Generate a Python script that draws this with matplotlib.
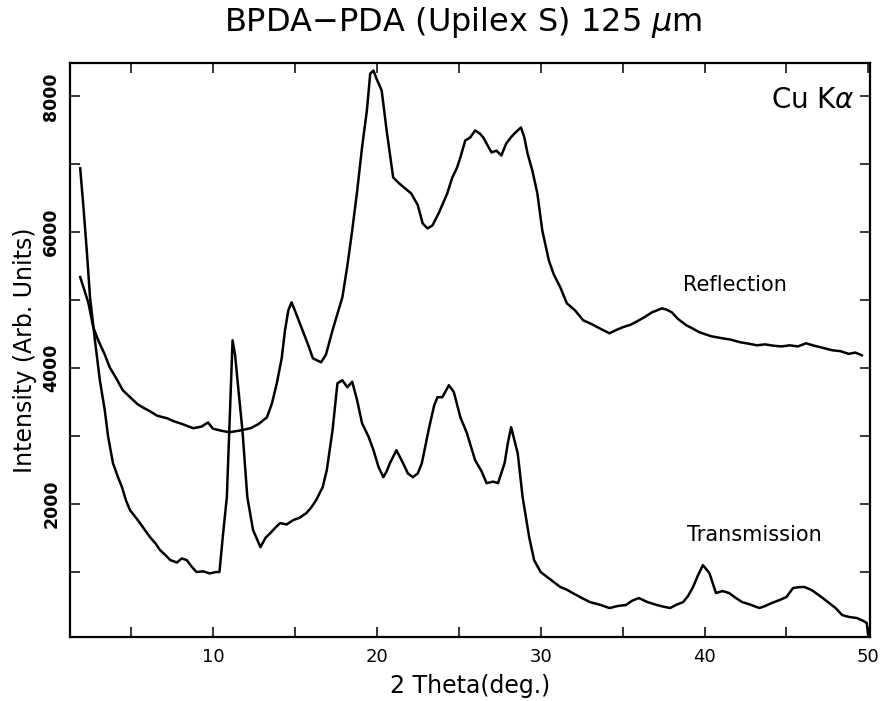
import matplotlib
matplotlib.use("Agg")
import matplotlib.pyplot as plt
from matplotlib.ticker import MultipleLocator

# values (2 theta in deg, intensity in arb. units)
refl_x = [1.9, 2.1, 2.4, 2.7, 3.0, 3.4, 3.7, 4.1, 4.5, 5.0, 5.4, 5.7, 6.2, 6.6,
          7.2, 7.6, 8.1, 8.8, 9.3, 9.7, 10.0, 10.5, 11.0, 11.6, 12.3, 12.8,
          13.3, 13.6, 13.9, 14.2, 14.4, 14.6, 14.8, 15.0, 15.4, 15.8, 16.1,
          16.6, 16.9, 17.3, 17.6, 17.9, 18.2, 18.5, 18.8, 19.1, 19.4, 19.6,
          19.8, 20.0, 20.3, 20.6, 21.0, 21.3, 21.7, 22.1, 22.5, 22.8, 23.1,
          23.4, 23.8, 24.3, 24.6, 24.9, 25.1, 25.4, 25.7, 26.0, 26.3, 26.5,
          27.0, 27.3, 27.6, 27.9, 28.2, 28.4, 28.8, 29.0, 29.2, 29.5, 29.8,
          30.1, 30.5, 30.8, 31.2, 31.6, 32.1, 32.6, 33.1, 33.6, 34.2, 34.6,
          35.0, 35.5, 36.0, 36.4, 36.8, 37.1, 37.4, 37.7, 38.0, 38.4, 38.9,
          39.3, 39.7, 40.4, 41.1, 41.6, 42.2, 42.7, 43.2, 43.7, 44.2, 44.7,
          45.2, 45.7, 46.2, 46.7, 47.2, 47.8, 48.3, 48.8, 49.2, 49.6]
refl_y = [5340, 5190, 4960, 4600, 4410, 4200, 4013, 3850, 3675, 3560, 3470,
          3425, 3360, 3300, 3263, 3220, 3180, 3116, 3140, 3200, 3110, 3080,
          3057, 3080, 3116, 3180, 3278, 3480, 3778, 4150, 4557, 4850, 4969,
          4850, 4600, 4350, 4145, 4086, 4200, 4557, 4800, 5042, 5500, 6027,
          6600, 7247, 7800, 8335, 8379, 8250, 8085, 7500, 6806, 6733, 6650,
          6571, 6400, 6130, 6056, 6100, 6291, 6571, 6800, 6953, 7100, 7350,
          7394, 7497, 7450, 7394, 7174, 7200, 7130, 7306, 7400, 7453, 7541,
          7400, 7159, 6900, 6571, 6027, 5586, 5380, 5189, 4954, 4850, 4704,
          4650, 4586, 4513, 4560, 4601, 4640, 4704, 4760, 4822, 4850, 4880,
          4860, 4822, 4720, 4630, 4580, 4527, 4470, 4439, 4420, 4380, 4360,
          4336, 4350, 4330, 4320, 4336, 4320, 4366, 4330, 4300, 4263, 4250,
          4210, 4230, 4189]

trans_x = [1.9, 2.1, 2.3, 2.5, 2.8, 3.1, 3.4, 3.6, 3.9, 4.2, 4.45, 4.7, 4.94,
           5.3, 5.55, 5.9, 6.16, 6.5, 6.77, 7.1, 7.4, 7.8, 8.1, 8.4, 8.7, 9.0,
           9.4, 9.8, 10.2, 10.4, 10.6, 10.85, 11.0, 11.2, 11.35, 11.5, 11.8,
           12.1, 12.45, 12.9, 13.2, 13.5, 13.8, 14.1, 14.5, 14.9, 15.3, 15.7,
           16.0, 16.3, 16.7, 16.95, 17.3, 17.6, 17.9, 18.2, 18.5, 18.8, 19.1,
           19.5, 19.8, 20.1, 20.4, 20.6, 20.8, 21.2, 21.6, 21.9, 22.2, 22.5,
           22.75, 23.0, 23.2, 23.5, 23.7, 24.0, 24.4, 24.7, 25.1, 25.5, 26.0,
           26.4, 26.7, 27.1, 27.4, 27.8, 28.0, 28.2, 28.6, 28.9, 29.3, 29.6,
           30.0, 30.4, 30.8, 31.2, 31.6, 31.95, 32.5, 33.0, 33.6, 34.2, 34.7,
           35.2, 35.6, 36.0, 36.5, 37.1, 37.5, 37.9, 38.3, 38.7, 39.0, 39.3,
           39.6, 39.9, 40.3, 40.7, 41.1, 41.5, 41.9, 42.3, 42.8, 43.35, 43.7,
           44.1, 44.6, 45.0, 45.4, 45.8, 46.1, 46.5, 46.8, 47.2, 47.6, 48.0,
           48.4, 48.8, 49.3, 49.7, 49.9, 50.0]
trans_y = [6940, 6365, 5735, 5043, 4410, 3822, 3381, 3000, 2602, 2400, 2249,
           2050, 1911, 1800, 1720, 1600, 1514, 1420, 1323, 1250, 1176, 1140,
           1200, 1176, 1080, 1000, 1010, 980, 1000, 1000, 1514, 2102, 3087,
           4410, 4200, 3822, 3087, 2102, 1617, 1367, 1500, 1573, 1650, 1720,
           1700, 1764, 1800, 1867, 1950, 2058, 2250, 2500, 3087, 3778, 3822,
           3719, 3800, 3528, 3190, 2990, 2793, 2550, 2396, 2480, 2602, 2793,
           2602, 2450, 2396, 2450, 2602, 2900, 3131, 3450, 3572, 3572, 3749,
           3650, 3278, 3043, 2646, 2480, 2308, 2330, 2308, 2602, 2900, 3131,
           2749, 2102, 1514, 1176, 1000, 926, 850, 779, 740, 691, 620, 558,
           520, 470, 500, 514, 580, 617, 560, 514, 490, 470, 520, 558, 650,
           779, 950, 1102, 985, 691, 720, 691, 620, 558, 520, 470, 500, 544,
           590, 632, 764, 779, 779, 740, 691, 620, 544, 470, 367, 340, 323,
           280, 250, 44]

x_ticks = [10, 20, 30, 40, 50]
y_ticks = [2000, 4000, 6000, 8000]

fig = plt.figure(figsize=(8.82, 7.01), dpi=100)
ax = fig.add_axes([0.0794, 0.0913, 0.9070, 0.8188])

ax.plot(refl_x, refl_y, color="black", lw=1.8)
ax.plot(trans_x, trans_y, color="black", lw=1.8)

ax.set_xlim(1.28, 50.1)
ax.set_ylim(44, 8490)

ax.set_xticks(x_ticks)
ax.set_yticks(y_ticks)
ax.xaxis.set_minor_locator(MultipleLocator(5))
ax.yaxis.set_minor_locator(MultipleLocator(1000))
ax.tick_params(which="both", direction="in", length=7.5, width=1.1,
               top=True, right=True)
ax.tick_params(axis="x", labelsize=13, pad=8)
ax.tick_params(axis="y", labelsize=12.5, pad=7)
for lab in ax.get_yticklabels():
    lab.set_rotation(90)
    lab.set_va("center")
    lab.set_fontweight("bold")
for sp in ax.spines.values():
    sp.set_linewidth(1.6)

ax.set_xlabel("2 Theta(deg.)", fontsize=17, labelpad=6)
ax.set_ylabel("Intensity (Arb. Units)", fontsize=17, labelpad=4)

fig.text(0.525, 0.968, "BPDA\u2212PDA (Upilex S) 125 $\\mu$m", fontsize=23,
         ha="center", va="center")
ax.text(0.981, 0.936, "Cu K$\\alpha$", transform=ax.transAxes, fontsize=20,
        ha="right", va="center")
ax.text(0.766, 0.613, "Reflection", transform=ax.transAxes, fontsize=15,
        ha="left", va="center")
ax.text(0.771, 0.178, "Transmission", transform=ax.transAxes, fontsize=15,
        ha="left", va="center")

fig.savefig("out.png", dpi=100)
